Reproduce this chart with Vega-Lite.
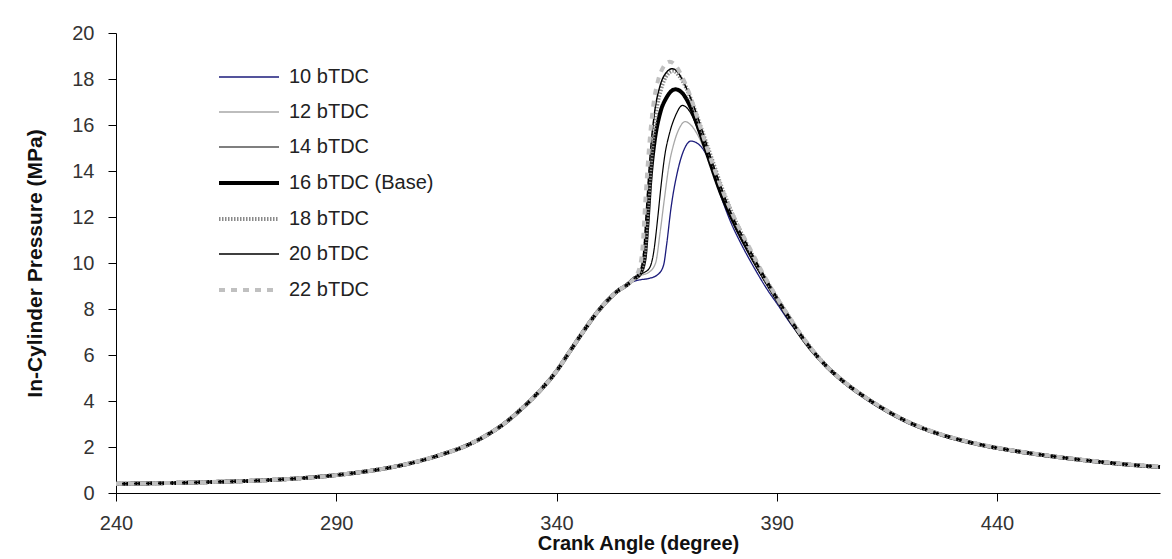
{
"$schema": "https://vega.github.io/schema/vega-lite/v6.json",
"width": 1044, "height": 460,
"autosize": {"type": "none"},
"padding": {"left": 116, "top": 33, "right": 12, "bottom": 66},
"background": "white",
"config": {
 "view": {"stroke": null},
 "font": "Liberation Sans",
 "axis": {"grid": false, "domainColor": "#000000", "tickColor": "#000000", "tickSize": 8, "labelFontSize": 20, "labelColor": "#333333", "labelFont": "Liberation Sans", "titleFont": "Liberation Sans", "titleFontSize": 20, "titleFontWeight": "bold", "titleColor": "#111111"}
},
"data": {"values": [
{"s":"10 bTDC","x":240,"p":0.40},{"s":"10 bTDC","x":248,"p":0.42},{"s":"10 bTDC","x":256,"p":0.45},{"s":"10 bTDC","x":264,"p":0.49},{"s":"10 bTDC","x":272,"p":0.54},{"s":"10 bTDC","x":280,"p":0.62},{"s":"10 bTDC","x":288,"p":0.74},{"s":"10 bTDC","x":296,"p":0.92},{"s":"10 bTDC","x":302,"p":1.10},{"s":"10 bTDC","x":308,"p":1.35},{"s":"10 bTDC","x":314,"p":1.68},{"s":"10 bTDC","x":320,"p":2.10},{"s":"10 bTDC","x":324,"p":2.50},{"s":"10 bTDC","x":328,"p":3.00},{"s":"10 bTDC","x":332,"p":3.65},{"s":"10 bTDC","x":336,"p":4.40},{"s":"10 bTDC","x":340,"p":5.30},{"s":"10 bTDC","x":343,"p":6.15},{"s":"10 bTDC","x":346,"p":7.00},{"s":"10 bTDC","x":349,"p":7.80},{"s":"10 bTDC","x":352,"p":8.45},{"s":"10 bTDC","x":354,"p":8.80},{"s":"10 bTDC","x":356,"p":9.05},
{"s":"10 bTDC","x":357.5,"p":9.2},{"s":"10 bTDC","x":359,"p":9.27},{"s":"10 bTDC","x":361,"p":9.33},{"s":"10 bTDC","x":363,"p":9.5},{"s":"10 bTDC","x":364.3,"p":9.9},{"s":"10 bTDC","x":365,"p":10.8},{"s":"10 bTDC","x":366,"p":12.4},{"s":"10 bTDC","x":367.5,"p":14.0},{"s":"10 bTDC","x":369,"p":14.95},{"s":"10 bTDC","x":370.5,"p":15.3},{"s":"10 bTDC","x":372,"p":15.2},{"s":"10 bTDC","x":374.3,"p":14.6},{"s":"10 bTDC","x":376.6,"p":13.3},{"s":"10 bTDC","x":379.5,"p":11.8},{"s":"10 bTDC","x":382,"p":10.8},{"s":"10 bTDC","x":385,"p":9.75},{"s":"10 bTDC","x":388,"p":8.8},{"s":"10 bTDC","x":390,"p":8.25},{"s":"10 bTDC","x":393,"p":7.4},{"s":"10 bTDC","x":396,"p":6.65},
{"s":"10 bTDC","x":400,"p":5.72},{"s":"10 bTDC","x":405,"p":4.82},{"s":"10 bTDC","x":410,"p":4.12},{"s":"10 bTDC","x":415,"p":3.52},{"s":"10 bTDC","x":420,"p":3.02},{"s":"10 bTDC","x":426,"p":2.58},{"s":"10 bTDC","x":432,"p":2.26},{"s":"10 bTDC","x":438,"p":2.0},{"s":"10 bTDC","x":444,"p":1.8},{"s":"10 bTDC","x":450,"p":1.63},{"s":"10 bTDC","x":456,"p":1.48},{"s":"10 bTDC","x":464,"p":1.31},{"s":"10 bTDC","x":470,"p":1.2},{"s":"10 bTDC","x":477,"p":1.1},

{"s":"12 bTDC","x":240,"p":0.40},{"s":"12 bTDC","x":248,"p":0.42},{"s":"12 bTDC","x":256,"p":0.45},{"s":"12 bTDC","x":264,"p":0.49},{"s":"12 bTDC","x":272,"p":0.54},{"s":"12 bTDC","x":280,"p":0.62},{"s":"12 bTDC","x":288,"p":0.74},{"s":"12 bTDC","x":296,"p":0.92},{"s":"12 bTDC","x":302,"p":1.10},{"s":"12 bTDC","x":308,"p":1.35},{"s":"12 bTDC","x":314,"p":1.68},{"s":"12 bTDC","x":320,"p":2.10},{"s":"12 bTDC","x":324,"p":2.50},{"s":"12 bTDC","x":328,"p":3.00},{"s":"12 bTDC","x":332,"p":3.65},{"s":"12 bTDC","x":336,"p":4.40},{"s":"12 bTDC","x":340,"p":5.30},{"s":"12 bTDC","x":343,"p":6.15},{"s":"12 bTDC","x":346,"p":7.00},{"s":"12 bTDC","x":349,"p":7.80},{"s":"12 bTDC","x":352,"p":8.45},{"s":"12 bTDC","x":354,"p":8.80},{"s":"12 bTDC","x":356,"p":9.05},
{"s":"12 bTDC","x":357.5,"p":9.3},{"s":"12 bTDC","x":359,"p":9.45},{"s":"12 bTDC","x":361,"p":9.6},{"s":"12 bTDC","x":362.5,"p":10.0},{"s":"12 bTDC","x":363.5,"p":11.3},{"s":"12 bTDC","x":364.5,"p":12.8},{"s":"12 bTDC","x":365.5,"p":14.2},{"s":"12 bTDC","x":366.8,"p":15.3},{"s":"12 bTDC","x":368,"p":15.9},{"s":"12 bTDC","x":369.2,"p":16.15},{"s":"12 bTDC","x":370.5,"p":16.0},{"s":"12 bTDC","x":372.5,"p":15.4},{"s":"12 bTDC","x":374.5,"p":14.5},{"s":"12 bTDC","x":377,"p":13.2},{"s":"12 bTDC","x":380,"p":11.8},{"s":"12 bTDC","x":384,"p":10.25},{"s":"12 bTDC","x":387,"p":9.3},{"s":"12 bTDC","x":390,"p":8.35},{"s":"12 bTDC","x":393,"p":7.5},{"s":"12 bTDC","x":396,"p":6.7},
{"s":"12 bTDC","x":400,"p":5.75},{"s":"12 bTDC","x":405,"p":4.85},{"s":"12 bTDC","x":410,"p":4.15},{"s":"12 bTDC","x":415,"p":3.55},{"s":"12 bTDC","x":420,"p":3.05},{"s":"12 bTDC","x":426,"p":2.6},{"s":"12 bTDC","x":432,"p":2.28},{"s":"12 bTDC","x":438,"p":2.02},{"s":"12 bTDC","x":444,"p":1.82},{"s":"12 bTDC","x":450,"p":1.65},{"s":"12 bTDC","x":456,"p":1.5},{"s":"12 bTDC","x":464,"p":1.33},{"s":"12 bTDC","x":470,"p":1.22},{"s":"12 bTDC","x":477,"p":1.12},

{"s":"14 bTDC","x":240,"p":0.40},{"s":"14 bTDC","x":248,"p":0.42},{"s":"14 bTDC","x":256,"p":0.45},{"s":"14 bTDC","x":264,"p":0.49},{"s":"14 bTDC","x":272,"p":0.54},{"s":"14 bTDC","x":280,"p":0.62},{"s":"14 bTDC","x":288,"p":0.74},{"s":"14 bTDC","x":296,"p":0.92},{"s":"14 bTDC","x":302,"p":1.10},{"s":"14 bTDC","x":308,"p":1.35},{"s":"14 bTDC","x":314,"p":1.68},{"s":"14 bTDC","x":320,"p":2.10},{"s":"14 bTDC","x":324,"p":2.50},{"s":"14 bTDC","x":328,"p":3.00},{"s":"14 bTDC","x":332,"p":3.65},{"s":"14 bTDC","x":336,"p":4.40},{"s":"14 bTDC","x":340,"p":5.30},{"s":"14 bTDC","x":343,"p":6.15},{"s":"14 bTDC","x":346,"p":7.00},{"s":"14 bTDC","x":349,"p":7.80},{"s":"14 bTDC","x":352,"p":8.45},{"s":"14 bTDC","x":354,"p":8.80},{"s":"14 bTDC","x":356,"p":9.05},
{"s":"14 bTDC","x":357.5,"p":9.3},{"s":"14 bTDC","x":359,"p":9.5},{"s":"14 bTDC","x":361,"p":9.75},{"s":"14 bTDC","x":362,"p":10.4},{"s":"14 bTDC","x":363,"p":12.0},{"s":"14 bTDC","x":363.7,"p":13.3},{"s":"14 bTDC","x":364.6,"p":14.7},{"s":"14 bTDC","x":365.6,"p":15.6},{"s":"14 bTDC","x":367,"p":16.4},{"s":"14 bTDC","x":368.6,"p":16.85},{"s":"14 bTDC","x":370.2,"p":16.6},{"s":"14 bTDC","x":372,"p":15.85},{"s":"14 bTDC","x":374,"p":14.8},{"s":"14 bTDC","x":376.5,"p":13.4},{"s":"14 bTDC","x":380,"p":11.8},{"s":"14 bTDC","x":384,"p":10.3},{"s":"14 bTDC","x":387,"p":9.3},{"s":"14 bTDC","x":390,"p":8.4},{"s":"14 bTDC","x":393,"p":7.5},{"s":"14 bTDC","x":396,"p":6.7},
{"s":"14 bTDC","x":400,"p":5.75},{"s":"14 bTDC","x":405,"p":4.85},{"s":"14 bTDC","x":410,"p":4.15},{"s":"14 bTDC","x":415,"p":3.55},{"s":"14 bTDC","x":420,"p":3.05},{"s":"14 bTDC","x":426,"p":2.6},{"s":"14 bTDC","x":432,"p":2.28},{"s":"14 bTDC","x":438,"p":2.02},{"s":"14 bTDC","x":444,"p":1.82},{"s":"14 bTDC","x":450,"p":1.65},{"s":"14 bTDC","x":456,"p":1.5},{"s":"14 bTDC","x":464,"p":1.33},{"s":"14 bTDC","x":470,"p":1.22},{"s":"14 bTDC","x":477,"p":1.12},

{"s":"16 bTDC (Base)","x":240,"p":0.40},{"s":"16 bTDC (Base)","x":248,"p":0.42},{"s":"16 bTDC (Base)","x":256,"p":0.45},{"s":"16 bTDC (Base)","x":264,"p":0.49},{"s":"16 bTDC (Base)","x":272,"p":0.54},{"s":"16 bTDC (Base)","x":280,"p":0.62},{"s":"16 bTDC (Base)","x":288,"p":0.74},{"s":"16 bTDC (Base)","x":296,"p":0.92},{"s":"16 bTDC (Base)","x":302,"p":1.10},{"s":"16 bTDC (Base)","x":308,"p":1.35},{"s":"16 bTDC (Base)","x":314,"p":1.68},{"s":"16 bTDC (Base)","x":320,"p":2.10},{"s":"16 bTDC (Base)","x":324,"p":2.50},{"s":"16 bTDC (Base)","x":328,"p":3.00},{"s":"16 bTDC (Base)","x":332,"p":3.65},{"s":"16 bTDC (Base)","x":336,"p":4.40},{"s":"16 bTDC (Base)","x":340,"p":5.30},{"s":"16 bTDC (Base)","x":343,"p":6.15},{"s":"16 bTDC (Base)","x":346,"p":7.00},{"s":"16 bTDC (Base)","x":349,"p":7.80},{"s":"16 bTDC (Base)","x":352,"p":8.45},{"s":"16 bTDC (Base)","x":354,"p":8.80},{"s":"16 bTDC (Base)","x":356,"p":9.05},
{"s":"16 bTDC (Base)","x":357.5,"p":9.3},{"s":"16 bTDC (Base)","x":359,"p":9.55},{"s":"16 bTDC (Base)","x":360,"p":10.2},{"s":"16 bTDC (Base)","x":360.6,"p":11.6},{"s":"16 bTDC (Base)","x":361.3,"p":13.6},{"s":"16 bTDC (Base)","x":362.2,"p":15.2},{"s":"16 bTDC (Base)","x":363.5,"p":16.5},{"s":"16 bTDC (Base)","x":365,"p":17.2},{"s":"16 bTDC (Base)","x":367,"p":17.55},{"s":"16 bTDC (Base)","x":368.5,"p":17.4},{"s":"16 bTDC (Base)","x":370,"p":16.95},{"s":"16 bTDC (Base)","x":372.7,"p":15.6},{"s":"16 bTDC (Base)","x":375,"p":14.3},{"s":"16 bTDC (Base)","x":376.8,"p":13.3},{"s":"16 bTDC (Base)","x":380.7,"p":11.6},{"s":"16 bTDC (Base)","x":384,"p":10.4},{"s":"16 bTDC (Base)","x":387,"p":9.4},{"s":"16 bTDC (Base)","x":390,"p":8.45},{"s":"16 bTDC (Base)","x":393,"p":7.55},{"s":"16 bTDC (Base)","x":396,"p":6.7},
{"s":"16 bTDC (Base)","x":400,"p":5.77},{"s":"16 bTDC (Base)","x":405,"p":4.87},{"s":"16 bTDC (Base)","x":410,"p":4.17},{"s":"16 bTDC (Base)","x":415,"p":3.57},{"s":"16 bTDC (Base)","x":420,"p":3.07},{"s":"16 bTDC (Base)","x":426,"p":2.62},{"s":"16 bTDC (Base)","x":432,"p":2.29},{"s":"16 bTDC (Base)","x":438,"p":2.03},{"s":"16 bTDC (Base)","x":444,"p":1.83},{"s":"16 bTDC (Base)","x":450,"p":1.66},{"s":"16 bTDC (Base)","x":456,"p":1.51},{"s":"16 bTDC (Base)","x":464,"p":1.34},{"s":"16 bTDC (Base)","x":470,"p":1.23},{"s":"16 bTDC (Base)","x":477,"p":1.13},

{"s":"18 bTDC","x":240,"p":0.40},{"s":"18 bTDC","x":248,"p":0.42},{"s":"18 bTDC","x":256,"p":0.45},{"s":"18 bTDC","x":264,"p":0.49},{"s":"18 bTDC","x":272,"p":0.54},{"s":"18 bTDC","x":280,"p":0.62},{"s":"18 bTDC","x":288,"p":0.74},{"s":"18 bTDC","x":296,"p":0.92},{"s":"18 bTDC","x":302,"p":1.10},{"s":"18 bTDC","x":308,"p":1.35},{"s":"18 bTDC","x":314,"p":1.68},{"s":"18 bTDC","x":320,"p":2.10},{"s":"18 bTDC","x":324,"p":2.50},{"s":"18 bTDC","x":328,"p":3.00},{"s":"18 bTDC","x":332,"p":3.65},{"s":"18 bTDC","x":336,"p":4.40},{"s":"18 bTDC","x":340,"p":5.30},{"s":"18 bTDC","x":343,"p":6.15},{"s":"18 bTDC","x":346,"p":7.00},{"s":"18 bTDC","x":349,"p":7.80},{"s":"18 bTDC","x":352,"p":8.45},{"s":"18 bTDC","x":354,"p":8.80},{"s":"18 bTDC","x":356,"p":9.05},
{"s":"18 bTDC","x":357.5,"p":9.3},{"s":"18 bTDC","x":359,"p":9.6},{"s":"18 bTDC","x":360,"p":10.4},{"s":"18 bTDC","x":360.7,"p":12.3},{"s":"18 bTDC","x":361.5,"p":14.5},{"s":"18 bTDC","x":362.5,"p":16.4},{"s":"18 bTDC","x":363.8,"p":17.6},{"s":"18 bTDC","x":365.2,"p":18.2},{"s":"18 bTDC","x":366.5,"p":18.35},{"s":"18 bTDC","x":368,"p":18.1},{"s":"18 bTDC","x":369.5,"p":17.6},{"s":"18 bTDC","x":371.5,"p":16.6},{"s":"18 bTDC","x":373.5,"p":15.5},{"s":"18 bTDC","x":375.5,"p":14.4},{"s":"18 bTDC","x":377.5,"p":13.3},{"s":"18 bTDC","x":380,"p":12.1},{"s":"18 bTDC","x":383,"p":10.9},{"s":"18 bTDC","x":386,"p":9.8},{"s":"18 bTDC","x":390,"p":8.5},{"s":"18 bTDC","x":393,"p":7.6},{"s":"18 bTDC","x":396,"p":6.75},
{"s":"18 bTDC","x":400,"p":5.78},{"s":"18 bTDC","x":405,"p":4.88},{"s":"18 bTDC","x":410,"p":4.17},{"s":"18 bTDC","x":415,"p":3.57},{"s":"18 bTDC","x":420,"p":3.07},{"s":"18 bTDC","x":426,"p":2.62},{"s":"18 bTDC","x":432,"p":2.29},{"s":"18 bTDC","x":438,"p":2.03},{"s":"18 bTDC","x":444,"p":1.83},{"s":"18 bTDC","x":450,"p":1.66},{"s":"18 bTDC","x":456,"p":1.51},{"s":"18 bTDC","x":464,"p":1.34},{"s":"18 bTDC","x":470,"p":1.23},{"s":"18 bTDC","x":477,"p":1.13},

{"s":"20 bTDC","x":240,"p":0.40},{"s":"20 bTDC","x":248,"p":0.42},{"s":"20 bTDC","x":256,"p":0.45},{"s":"20 bTDC","x":264,"p":0.49},{"s":"20 bTDC","x":272,"p":0.54},{"s":"20 bTDC","x":280,"p":0.62},{"s":"20 bTDC","x":288,"p":0.74},{"s":"20 bTDC","x":296,"p":0.92},{"s":"20 bTDC","x":302,"p":1.10},{"s":"20 bTDC","x":308,"p":1.35},{"s":"20 bTDC","x":314,"p":1.68},{"s":"20 bTDC","x":320,"p":2.10},{"s":"20 bTDC","x":324,"p":2.50},{"s":"20 bTDC","x":328,"p":3.00},{"s":"20 bTDC","x":332,"p":3.65},{"s":"20 bTDC","x":336,"p":4.40},{"s":"20 bTDC","x":340,"p":5.30},{"s":"20 bTDC","x":343,"p":6.15},{"s":"20 bTDC","x":346,"p":7.00},{"s":"20 bTDC","x":349,"p":7.80},{"s":"20 bTDC","x":352,"p":8.45},{"s":"20 bTDC","x":354,"p":8.80},{"s":"20 bTDC","x":356,"p":9.05},
{"s":"20 bTDC","x":357.5,"p":9.3},{"s":"20 bTDC","x":359,"p":9.65},{"s":"20 bTDC","x":359.8,"p":10.5},{"s":"20 bTDC","x":360.5,"p":12.6},{"s":"20 bTDC","x":361.3,"p":14.8},{"s":"20 bTDC","x":362.3,"p":16.6},{"s":"20 bTDC","x":363.5,"p":17.7},{"s":"20 bTDC","x":365,"p":18.3},{"s":"20 bTDC","x":366.3,"p":18.45},{"s":"20 bTDC","x":367.5,"p":18.3},{"s":"20 bTDC","x":369,"p":17.8},{"s":"20 bTDC","x":371,"p":16.9},{"s":"20 bTDC","x":373,"p":15.8},{"s":"20 bTDC","x":375,"p":14.6},{"s":"20 bTDC","x":377,"p":13.5},{"s":"20 bTDC","x":380,"p":12.0},{"s":"20 bTDC","x":383,"p":10.9},{"s":"20 bTDC","x":386,"p":9.8},{"s":"20 bTDC","x":390,"p":8.5},{"s":"20 bTDC","x":393,"p":7.6},{"s":"20 bTDC","x":396,"p":6.75},
{"s":"20 bTDC","x":400,"p":5.78},{"s":"20 bTDC","x":405,"p":4.88},{"s":"20 bTDC","x":410,"p":4.18},{"s":"20 bTDC","x":415,"p":3.58},{"s":"20 bTDC","x":420,"p":3.08},{"s":"20 bTDC","x":426,"p":2.63},{"s":"20 bTDC","x":432,"p":2.3},{"s":"20 bTDC","x":438,"p":2.04},{"s":"20 bTDC","x":444,"p":1.84},{"s":"20 bTDC","x":450,"p":1.67},{"s":"20 bTDC","x":456,"p":1.52},{"s":"20 bTDC","x":464,"p":1.35},{"s":"20 bTDC","x":470,"p":1.24},{"s":"20 bTDC","x":477,"p":1.14},

{"s":"22 bTDC","x":240,"p":0.40},{"s":"22 bTDC","x":248,"p":0.42},{"s":"22 bTDC","x":256,"p":0.45},{"s":"22 bTDC","x":264,"p":0.49},{"s":"22 bTDC","x":272,"p":0.54},{"s":"22 bTDC","x":280,"p":0.62},{"s":"22 bTDC","x":288,"p":0.74},{"s":"22 bTDC","x":296,"p":0.92},{"s":"22 bTDC","x":302,"p":1.10},{"s":"22 bTDC","x":308,"p":1.35},{"s":"22 bTDC","x":314,"p":1.68},{"s":"22 bTDC","x":320,"p":2.10},{"s":"22 bTDC","x":324,"p":2.50},{"s":"22 bTDC","x":328,"p":3.00},{"s":"22 bTDC","x":332,"p":3.65},{"s":"22 bTDC","x":336,"p":4.40},{"s":"22 bTDC","x":340,"p":5.30},{"s":"22 bTDC","x":343,"p":6.15},{"s":"22 bTDC","x":346,"p":7.00},{"s":"22 bTDC","x":349,"p":7.80},{"s":"22 bTDC","x":352,"p":8.45},{"s":"22 bTDC","x":354,"p":8.80},{"s":"22 bTDC","x":356,"p":9.05},
{"s":"22 bTDC","x":357.5,"p":9.3},{"s":"22 bTDC","x":358.7,"p":9.7},{"s":"22 bTDC","x":359.5,"p":10.6},{"s":"22 bTDC","x":360.2,"p":12.8},{"s":"22 bTDC","x":361,"p":15.0},{"s":"22 bTDC","x":362,"p":16.9},{"s":"22 bTDC","x":363,"p":17.9},{"s":"22 bTDC","x":364.2,"p":18.5},{"s":"22 bTDC","x":365.7,"p":18.75},{"s":"22 bTDC","x":367,"p":18.6},{"s":"22 bTDC","x":368.5,"p":18.1},{"s":"22 bTDC","x":370,"p":17.45},{"s":"22 bTDC","x":372,"p":16.3},{"s":"22 bTDC","x":374,"p":15.1},{"s":"22 bTDC","x":376,"p":14.0},{"s":"22 bTDC","x":378,"p":13.0},{"s":"22 bTDC","x":381,"p":11.7},{"s":"22 bTDC","x":384,"p":10.6},{"s":"22 bTDC","x":387,"p":9.5},{"s":"22 bTDC","x":390,"p":8.5},{"s":"22 bTDC","x":393,"p":7.6},{"s":"22 bTDC","x":396,"p":6.75},
{"s":"22 bTDC","x":400,"p":5.78},{"s":"22 bTDC","x":405,"p":4.88},{"s":"22 bTDC","x":410,"p":4.18},{"s":"22 bTDC","x":415,"p":3.58},{"s":"22 bTDC","x":420,"p":3.08},{"s":"22 bTDC","x":426,"p":2.63},{"s":"22 bTDC","x":432,"p":2.3},{"s":"22 bTDC","x":438,"p":2.04},{"s":"22 bTDC","x":444,"p":1.84},{"s":"22 bTDC","x":450,"p":1.67},{"s":"22 bTDC","x":456,"p":1.52},{"s":"22 bTDC","x":464,"p":1.35},{"s":"22 bTDC","x":470,"p":1.24},{"s":"22 bTDC","x":477,"p":1.14}
]},
"mark": {"type": "line", "interpolate": "monotone"},
"encoding": {
 "x": {"field": "x", "type": "quantitative", "scale": {"domain": [240, 477], "nice": false, "zero": false},
   "axis": {"values": [240, 290, 340, 390, 440], "title": "Crank Angle (degree)", "labelPadding": 12, "titlePadding": 0, "labelFlush": false}},
 "y": {"field": "p", "type": "quantitative", "scale": {"domain": [0, 20], "nice": false},
   "axis": {"values": [0, 2, 4, 6, 8, 10, 12, 14, 16, 18, 20], "title": "In-Cylinder Pressure (MPa)", "labelPadding": 14, "titlePadding": 26, "titleFontSize": 21}},
 "color": {"field": "s", "type": "ordinal", "title": null,
   "scale": {"type": "ordinal", "domain": ["10 bTDC", "12 bTDC", "14 bTDC", "16 bTDC (Base)", "18 bTDC", "20 bTDC", "22 bTDC"],
     "range": ["#1c1c7c", "#a8a8a8", "#000000", "#000000", "#8a8a8a", "#000000", "#c0c0c0"]},
   "legend": {"orient": "none", "legendX": 141, "legendY": 33, "symbolType": "M-5,0H1", "symbolSize": 400, "labelFontSize": 20, "labelFont": "Liberation Sans", "labelColor": "#222222", "rowPadding": 14, "labelOffset": 8, "padding": 0, "symbolOpacity": 1}},
 "strokeWidth": {"field": "s", "type": "ordinal", "title": null,
   "scale": {"type": "ordinal", "domain": ["10 bTDC", "12 bTDC", "14 bTDC", "16 bTDC (Base)", "18 bTDC", "20 bTDC", "22 bTDC"],
     "range": [1.3, 1.3, 1.2, 4, 4, 1.4, 4]}},
 "strokeDash": {"field": "s", "type": "ordinal", "title": null,
   "scale": {"type": "ordinal", "domain": ["10 bTDC", "12 bTDC", "14 bTDC", "16 bTDC (Base)", "18 bTDC", "20 bTDC", "22 bTDC"],
     "range": [[1, 0], [1, 0], [1, 0], [1, 0], [1.5, 1.5], [1, 0], [6, 6]]}}
}
}
